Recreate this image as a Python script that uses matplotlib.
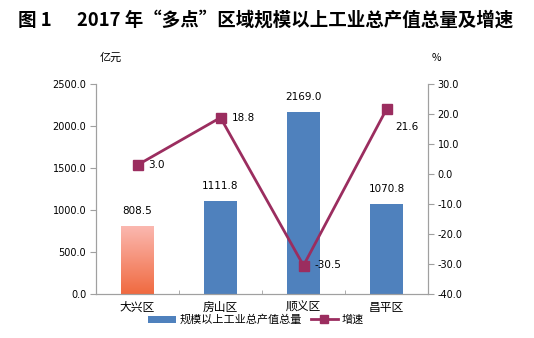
import matplotlib
matplotlib.use("Agg")
import matplotlib.pyplot as plt
import numpy as np
from matplotlib.colors import LinearSegmentedColormap
from matplotlib.lines import Line2D
from matplotlib.patches import Patch

plt.rcParams['font.family'] = ['Noto Sans CJK SC', 'DejaVu Sans']

categories = ["大兴区", "房山区", "顺义区", "昌平区"]
output_values = [808.5, 1111.8, 2169.0, 1070.8]
growth_rates = [3.0, 18.8, -30.5, 21.6]
left_ticks = [0, 500, 1000, 1500, 2000, 2500]
right_ticks = [-40, -30, -20, -10, 0, 10, 20, 30]

title_num = "图 1"
title = "2017 年“多点”区域规模以上工业总产值总量及增速"
bar_legend = "规模以上工业总产值总量"
line_legend = "增速"

blue = "#4F81BD"
line_color = "#9B2D5F"
axis_color = "#A0A0A0"

fig = plt.figure(figsize=(5.34, 3.38), dpi=100)
ax = fig.add_axes([96/534, 44/338, 332/534, 210/338])
x = np.arange(len(categories))
bars = ax.bar(x, output_values, width=0.39, color=blue, zorder=2)

# gradient fill for first bar
grad = LinearSegmentedColormap.from_list("g", ["#F06A40", "#FBB8B0"])
b0 = bars[0]
b0.set_facecolor("none")
x0, w, h = b0.get_x(), b0.get_width(), b0.get_height()
ax.imshow(np.linspace(0, 1, 256).reshape(-1, 1), cmap=grad, aspect="auto",
          extent=[x0, x0 + w, 0, h], origin="lower", zorder=2)

ax.set_xlim(-0.5, len(categories) - 0.5)
ax.set_ylim(0, 2500)
ax.set_yticks(left_ticks)
ax.set_yticklabels([f"{v:.1f}" for v in left_ticks], fontsize=7, family="DejaVu Sans")
ax.set_xticks(x)
ax.set_xticklabels(categories, fontsize=8.5)
ax.tick_params(axis="x", length=0, pad=5)
ax.set_xticks(np.arange(0.5, len(categories) - 0.5, 1), minor=True)
ax.tick_params(axis="x", which="minor", direction="in", length=3, color=axis_color)
ax.tick_params(axis="y", length=4, color=axis_color, pad=3)
ax.spines["top"].set_visible(False)
for s in ["left", "bottom", "right"]:
    ax.spines[s].set_color(axis_color)

for xi, v in zip(x, output_values):
    ax.annotate(f"{v:.1f}", (xi, v), xytext=(0, 7), textcoords="offset points",
                ha="center", va="bottom", fontsize=7.5, family="DejaVu Sans")

ax2 = ax.twinx()
ax2.set_ylim(-40, 30)
ax2.set_yticks(right_ticks)
ax2.set_yticklabels([f"{v:.1f}" for v in right_ticks], fontsize=7, family="DejaVu Sans")
ax2.tick_params(axis="y", length=4, color=axis_color, pad=3)
ax2.spines["top"].set_visible(False)
for s in ["left", "bottom", "right"]:
    ax2.spines[s].set_color(axis_color)
ax2.plot(x, growth_rates, color=line_color, lw=2, marker="s", ms=7, zorder=3)

offsets = [(8, 0, "left", "center"), (8, 0, "left", "center"),
           (8, 0, "left", "center"), (6, -9, "left", "top")]
for xi, v, (dx, dy, ha, va) in zip(x, growth_rates, offsets):
    ax2.annotate(f"{v:.1f}", (xi, v), xytext=(dx, dy), textcoords="offset points",
                 ha=ha, va=va, fontsize=7.5, family="DejaVu Sans")

fig.text(100/534, 1 - 58/338, "亿元", fontsize=8, ha="left", va="center")
fig.text(432/534, 1 - 58/338, "%", fontsize=7.5, ha="left", va="center")
fig.text(18/534, 1 - 20/338, title_num, fontsize=13.3, fontweight="bold", ha="left", va="center")
fig.text(77/534, 1 - 20/338, title, fontsize=13.3, fontweight="bold", ha="left", va="center")

handles = [Patch(facecolor=blue, edgecolor="none"),
           Line2D([0], [0], color=line_color, lw=2, marker="s", ms=6)]
fig.legend(handles, [bar_legend, line_legend], loc="center", bbox_to_anchor=(256/534, 1 - 320/338),
           ncol=2, frameon=False, fontsize=8, handlelength=2.5, handletextpad=0.3,
           columnspacing=0.8)

fig.savefig("out.png", dpi=100)
